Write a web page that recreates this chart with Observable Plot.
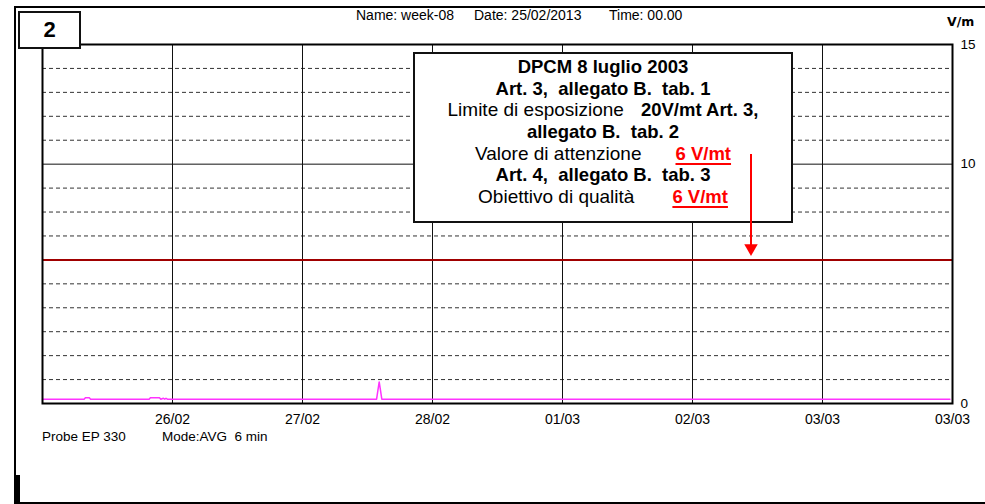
<!DOCTYPE html>
<html>
<head>
<meta charset="utf-8">
<script src="https://cdn.jsdelivr.net/npm/d3@7"></script>
<script src="https://cdn.jsdelivr.net/npm/@observablehq/plot@0.6"></script>
<style>
  html, body { margin: 0; padding: 0; background: #fff; }
  #wrap { position: relative; width: 985px; height: 504px; overflow: hidden; font-family: "Liberation Sans", Arial, sans-serif; color: #000; }
  #wrap svg { position: absolute; left: 0; top: 0; }
  .abs { position: absolute; white-space: pre; }
  .hdr { font-size: 14px; line-height: 16px; }
  .box2 { position: absolute; left: 18px; top: 11px; width: 63px; height: 38px; box-sizing: border-box; border: 2px solid #111; background: #fff; font-weight: bold; font-size: 22px; line-height: 34px; text-align: center; }
  .note { position: absolute; left: 413px; top: 52px; width: 380px; height: 171px; box-sizing: border-box; border: 2px solid #111; background: #fff; text-align: center; padding-top: 2px; }
  .note div { height: 21.67px; line-height: 21.67px; white-space: pre; font-size: 18.5px; }
  .b { font-weight: bold; }
  .r { font-size: 19px; font-weight: normal; }
  .red { color: #ff0000; font-weight: bold; text-decoration: underline; text-decoration-thickness: 2px; text-underline-offset: 3px; }
</style>
</head>
<body>
<div id="wrap"></div>
<script>
// ---- data ----
const xTickDays = [1, 2, 3, 4, 5, 6, 7];
const xTickLabels = ["26/02", "27/02", "28/02", "01/03", "02/03", "03/03", "03/03"];
const yTickValues = [0, 10, 15];
const dashedLevels = [1, 2, 3, 4, 5, 7, 8, 9, 11, 12, 13, 14];
const solidLevels = [10];
const limitValue = 6; // V/m, valore di attenzione
// field strength series (days since 25/02 00:00, V/m)
const seriesDays = [0, 0.32, 0.33, 0.36, 0.37, 0.82, 0.83, 0.90, 0.91, 0.93, 0.94, 0.95, 0.96, 2.57, 2.58, 2.59, 2.60, 2.61, 6.98];
const seriesVm   = [0.18, 0.18, 0.24, 0.24, 0.18, 0.18, 0.24, 0.24, 0.18, 0.22, 0.18, 0.22, 0.18, 0.18, 0.55, 0.9, 0.55, 0.18, 0.18];
// annotation arrow (day position, start level, head level)
const arrowDay = [5.45];
const arrowFrom = [10.4];
const arrowHeadAt = [6.49];

const series = seriesDays.map((d, i) => ({t: d, v: seriesVm[i]}));

const common = {
  width: 985,
  height: 504,
  marginLeft: 42,
  marginRight: 33,
  marginTop: 44,
  marginBottom: 101,
  style: {fontFamily: "Liberation Sans, Arial, sans-serif", fontSize: "14px", background: "transparent", color: "#000"},
  x: {domain: [0, 7], label: null},
  y: {domain: [0, 15], label: null}
};

const chart = Plot.plot({
  ...common,
  marks: [
    Plot.ruleY(dashedLevels, {stroke: "#333", strokeWidth: 1, strokeDasharray: "4,3"}),
    Plot.ruleY(solidLevels, {stroke: "#111", strokeWidth: 1}),
    Plot.ruleX(xTickDays.slice(0, -1), {stroke: "#111", strokeWidth: 1}),
    Plot.ruleY([limitValue], {stroke: "#a00000", strokeWidth: 2}),
    Plot.line(series, {x: "t", y: "v", stroke: "#ff33ff", strokeWidth: 1.5}),
    Plot.frame({stroke: "#000", strokeWidth: 2}),
    Plot.axisX(xTickDays, {tickSize: 0, tickPadding: 11, tickFormat: (d, i) => xTickLabels[i], fontSize: 14}),
    Plot.axisY(yTickValues, {anchor: "right", tickSize: 0, tickPadding: 8, fontSize: 13.5})
  ]
});

// arrow layer drawn above the annotation box
const arrowLayer = Plot.plot({
  ...common,
  axis: null,
  marks: [
    Plot.ruleX(arrowDay, {x: d => d, y1: arrowFrom[0], y2: arrowHeadAt[0] + 0.1, stroke: "#ff0000", strokeWidth: 2}),
    Plot.dot(arrowDay, {x: d => d, y: arrowHeadAt[0], symbol: "triangle", rotate: 180, r: 5, fill: "#ff0000", stroke: "none"})
  ]
});

const wrap = document.getElementById("wrap");
wrap.appendChild(chart);

const overlay = `
  <div class="abs" style="left:14px;top:6px;width:971px;height:2px;background:#000"></div>
  <div class="abs" style="left:14px;top:6px;width:2px;height:498px;background:#000"></div>
  <div class="abs" style="left:14px;top:502px;width:971px;height:2px;background:#000"></div>
  <div class="abs" style="left:15px;top:475px;width:5px;height:29px;background:#000"></div>
  <div class="box2">2</div>
  <div class="abs hdr" style="left:356px;top:7px">Name: week-08</div>
  <div class="abs hdr" style="left:474px;top:7px">Date: 25/02/2013</div>
  <div class="abs hdr" style="left:609px;top:7px">Time: 00.00</div>
  <div class="abs" style="left:947px;top:14px;font-family:'DejaVu Sans';font-weight:bold;font-size:12.5px;line-height:16px">V/m</div>
  <div class="abs" style="left:42px;top:429px;font-size:13.5px;line-height:16px">Probe EP 330</div>
  <div class="abs" style="left:162px;top:429px;font-size:13.5px;line-height:16px">Mode:AVG  6 min</div>
  <div class="note">
    <div class="b">DPCM 8 luglio 2003</div>
    <div class="b">Art. 3,  allegato B.  tab. 1</div>
    <div><span class="r">Limite di esposizione</span><span class="b" style="margin-left:17px">20V/mt Art. 3,</span></div>
    <div class="b">allegato B.  tab. 2</div>
    <div><span class="r">Valore di attenzione</span><span class="red" style="margin-left:34px">6 V/mt</span></div>
    <div class="b">Art. 4,  allegato B.  tab. 3</div>
    <div><span class="r">Obiettivo di qualità</span><span class="red" style="margin-left:38px">6 V/mt</span></div>
  </div>
`;
wrap.insertAdjacentHTML("beforeend", overlay);
wrap.appendChild(arrowLayer);
</script>
</body>
</html>
